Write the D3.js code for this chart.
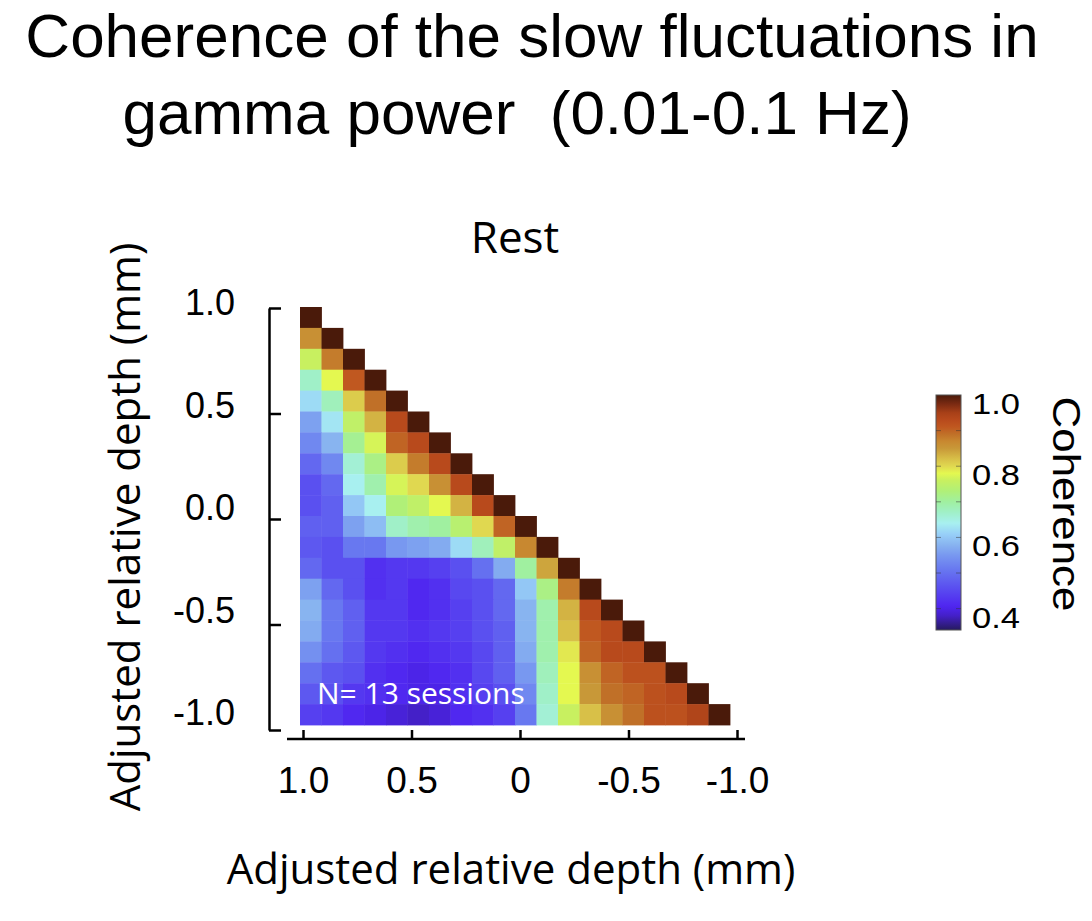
<!DOCTYPE html>
<html>
<head>
<meta charset="utf-8">
<script src="https://cdn.jsdelivr.net/npm/d3@7"></script>
<style>
  body { margin: 0; background: #ffffff; }
  svg { display: block; }
</style>
</head>
<body>
<div id="chart"></div>
<script>
///// DATA /////

// lower triangle of the coherence matrix, row i has channels 0..i
var coherence = [
  [1.0],
  [0.86, 1.0],
  [0.76, 0.88, 1.0],
  [0.67, 0.78, 0.91, 1.0],
  [0.62, 0.68, 0.81, 0.89, 1.0],
  [0.56, 0.63, 0.75, 0.83, 0.93, 1.0],
  [0.53, 0.58, 0.71, 0.77, 0.90, 0.93, 1.0],
  [0.49, 0.53, 0.66, 0.72, 0.81, 0.88, 0.93, 1.0],
  [0.46, 0.49, 0.64, 0.69, 0.77, 0.80, 0.86, 0.93, 1.0],
  [0.46, 0.48, 0.60, 0.64, 0.73, 0.75, 0.78, 0.83, 0.93, 1.0],
  [0.48, 0.48, 0.56, 0.59, 0.67, 0.69, 0.70, 0.74, 0.80, 0.90, 1.0],
  [0.47, 0.46, 0.51, 0.51, 0.55, 0.56, 0.57, 0.62, 0.68, 0.75, 0.87, 1.0],
  [0.49, 0.46, 0.46, 0.42, 0.43, 0.43, 0.44, 0.46, 0.50, 0.57, 0.70, 0.84, 1.0],
  [0.56, 0.49, 0.46, 0.42, 0.43, 0.41, 0.42, 0.45, 0.46, 0.49, 0.60, 0.72, 0.88, 1.0],
  [0.58, 0.51, 0.48, 0.43, 0.43, 0.41, 0.42, 0.44, 0.46, 0.49, 0.58, 0.69, 0.83, 0.93, 1.0],
  [0.57, 0.51, 0.48, 0.43, 0.43, 0.42, 0.43, 0.44, 0.46, 0.48, 0.58, 0.69, 0.82, 0.91, 0.93, 1.0],
  [0.54, 0.50, 0.47, 0.43, 0.42, 0.41, 0.42, 0.43, 0.45, 0.48, 0.57, 0.69, 0.79, 0.90, 0.93, 0.93, 1.0],
  [0.50, 0.47, 0.46, 0.42, 0.41, 0.40, 0.41, 0.42, 0.45, 0.48, 0.55, 0.68, 0.78, 0.86, 0.90, 0.92, 0.92, 1.0],
  [0.47, 0.46, 0.43, 0.42, 0.41, 0.40, 0.40, 0.42, 0.44, 0.46, 0.53, 0.67, 0.78, 0.85, 0.89, 0.90, 0.92, 0.93, 1.0],
  [0.44, 0.43, 0.41, 0.40, 0.39, 0.38, 0.39, 0.41, 0.42, 0.44, 0.51, 0.66, 0.76, 0.82, 0.86, 0.89, 0.92, 0.92, 0.94, 1.0]
];

var depthTicks = [1, 0.5, 0, -0.5, -1];
var xTickLabels = ["1.0", "0.5", "0", "-0.5", "-1.0"];
var yTickLabels = ["1.0", "0.5", "0.0", "-0.5", "-1.0"];
var cbarTicks = [0.4, 0.5, 0.6, 0.7, 0.8, 0.9, 1.0];
var cbarLabels = [0.4, 0.6, 0.8, 1.0];

// colour map
var cmapValues = [0.34, 0.38, 0.40, 0.41, 0.43, 0.46, 0.48, 0.51, 0.55, 0.58, 0.61, 0.64, 0.67, 0.70, 0.73, 0.76, 0.78, 0.80, 0.82, 0.85, 0.87, 0.89, 0.91, 0.93, 0.95, 0.975, 1.0];
var cmapColors = ["#261a5e", "#4420c8", "#4c24e8", "#5028f0", "#5438f0", "#5a50f0", "#6060f0", "#6878f0", "#7898f0", "#88b4f0", "#98d0f8", "#a8f0f0", "#a0f0c8", "#a0f0a0", "#b0f078", "#c8f060", "#e4f850", "#e0d850", "#d8c048", "#c89838", "#c88830", "#c07028", "#c05820", "#b84a1c", "#a84018", "#7a2a12", "#4a1a0a"];

///// CANVAS /////

var width = 1092;
var height = 921;
var nCh = coherence.length;

var svg = d3.select("#chart").append("svg")
  .attr("width", width)
  .attr("height", height);

svg.append("rect")
  .attr("width", "100%")
  .attr("height", "100%")
  .attr("fill", "#ffffff");

var color = d3.scaleLinear()
  .domain(cmapValues)
  .range(cmapColors)
  .interpolate(d3.interpolateRgb)
  .clamp(true);

// cells
var col = d3.scaleBand().domain(d3.range(nCh)).range([300, 730]);
var row = d3.scaleBand().domain(d3.range(nCh)).range([307, 725]);

// axes
var x = d3.scaleLinear().domain([1, -1]).range([303, 737]);
var y = d3.scaleLinear().domain([1, -1]).range([308, 730]);
var yLab = d3.scaleLinear().domain([1, -1]).range([315, 725]);

var cells = [];
coherence.forEach(function (r, i) {
  r.forEach(function (v, j) {
    cells.push({ i: i, j: j, v: v });
  });
});

svg.append("g")
  .selectAll("rect")
  .data(cells)
  .enter()
  .append("rect")
  .attr("x", function (d) { return col(d.j); })
  .attr("y", function (d) { return row(d.i); })
  .attr("width", col.bandwidth() + 0.4)
  .attr("height", row.bandwidth() + 0.4)
  .attr("fill", function (d) { return color(d.v); });

svg.append("text")
  .attr("x", 317)
  .attr("y", 704)
  .text("N= 13 sessions")
  .style("fill", "#ffffff")
  .style("font-family", "'Open Sans', sans-serif")
  .style("font-size", "30px");

///// AXES /////

var tickFont = "'Liberation Sans', Arial, Helvetica, sans-serif";

// x axis
var xAxis = svg.append("g")
  .attr("transform", "translate(0,739)")
  .call(d3.axisBottom(x)
    .tickValues(depthTicks)
    .tickSizeInner(-9)
    .tickSizeOuter(0)
    .tickFormat(function (d, i) { return xTickLabels[i]; }));

xAxis.select(".domain").remove();
xAxis.selectAll(".tick line").attr("stroke", "#000").attr("stroke-width", 2.5);
xAxis.selectAll(".tick text")
  .attr("y", 54)
  .attr("dy", 0)
  .style("font-family", tickFont)
  .style("font-size", "37px")
  .style("fill", "#000");

svg.append("line")
  .attr("x1", 287).attr("x2", 745)
  .attr("y1", 739).attr("y2", 739)
  .attr("stroke", "#000")
  .attr("stroke-width", 2.5);

// y axis
var yAxis = svg.append("g")
  .attr("transform", "translate(269,0)")
  .call(d3.axisRight(y)
    .tickValues(depthTicks)
    .tickSizeInner(12)
    .tickSizeOuter(0)
    .tickFormat(""));

yAxis.select(".domain").attr("stroke", "#000").attr("stroke-width", 2.5);
yAxis.selectAll(".tick line").attr("stroke", "#000").attr("stroke-width", 2.5);

svg.append("g")
  .selectAll("text")
  .data(depthTicks)
  .enter()
  .append("text")
  .attr("x", 235)
  .attr("y", function (d) { return yLab(d); })
  .attr("text-anchor", "end")
  .text(function (d, i) { return yTickLabels[i]; })
  .style("font-family", tickFont)
  .style("font-size", "36px")
  .style("fill", "#000");

///// COLOUR BAR /////

var cbY = d3.scaleLinear().domain([0.34, 1.0]).range([630, 395]);

var grad = svg.append("defs").append("linearGradient")
  .attr("id", "cbarGrad")
  .attr("x1", 0).attr("y1", 1)
  .attr("x2", 0).attr("y2", 0);

grad.selectAll("stop")
  .data(cmapValues)
  .enter()
  .append("stop")
  .attr("offset", function (d) { return (d - 0.34) / (1.0 - 0.34); })
  .attr("stop-color", function (d, i) { return cmapColors[i]; });

svg.append("rect")
  .attr("x", 936)
  .attr("y", cbY(1.0))
  .attr("width", 25)
  .attr("height", cbY(0.34) - cbY(1.0))
  .attr("fill", "url(#cbarGrad)")
  .attr("stroke", "#555")
  .attr("stroke-width", 1);

// faint tick dashes on both edges of the bar
[936, 956].forEach(function (x0) {
  svg.append("g")
    .selectAll("line")
    .data(cbarTicks.filter(function (d) { return d < 1; }))
    .enter()
    .append("line")
    .attr("x1", x0).attr("x2", x0 + 5)
    .attr("y1", function (d) { return cbY(d); })
    .attr("y2", function (d) { return cbY(d); })
    .attr("stroke", "#333")
    .attr("stroke-opacity", 0.5)
    .attr("stroke-width", 1);
});

svg.append("g")
  .selectAll("text")
  .data(cbarLabels)
  .enter()
  .append("text")
  .attr("x", 972)
  .attr("y", function (d) { return cbY(d) + 19; })
  .attr("textLength", 48)
  .attr("lengthAdjust", "spacingAndGlyphs")
  .text(function (d) { return d3.format(".1f")(d); })
  .style("font-family", tickFont)
  .style("font-size", "29px")
  .style("fill", "#000");

svg.append("text")
  .attr("transform", "translate(1053,504) rotate(90)")
  .attr("text-anchor", "middle")
  .attr("textLength", 215)
  .attr("lengthAdjust", "spacingAndGlyphs")
  .text("Coherence")
  .style("font-family", tickFont)
  .style("font-size", "38px")
  .style("fill", "#000");

///// TITLES /////

svg.append("text")
  .attr("x", 532)
  .attr("y", 57)
  .attr("text-anchor", "middle")
  .text("Coherence of the slow fluctuations in")
  .style("font-family", tickFont)
  .style("font-size", "62px")
  .style("fill", "#000");

svg.append("text")
  .attr("x", 517)
  .attr("y", 134)
  .attr("text-anchor", "middle")
  .text("gamma power  (0.01-0.1 Hz)")
  .style("white-space", "pre")
  .style("font-family", tickFont)
  .style("font-size", "62px")
  .style("fill", "#000");

svg.append("text")
  .attr("x", 515)
  .attr("y", 253)
  .attr("text-anchor", "middle")
  .text("Rest")
  .style("font-family", "'Open Sans', sans-serif")
  .style("font-size", "44px")
  .style("fill", "#000");

svg.append("text")
  .attr("x", 511)
  .attr("y", 884)
  .attr("text-anchor", "middle")
  .text("Adjusted relative depth (mm)")
  .style("font-family", "'Open Sans', sans-serif")
  .style("font-size", "42px")
  .style("fill", "#000");

svg.append("text")
  .attr("transform", "translate(140,527) rotate(-90)")
  .attr("text-anchor", "middle")
  .text("Adjusted relative depth (mm)")
  .style("font-family", "'Open Sans', sans-serif")
  .style("font-size", "42px")
  .style("fill", "#000");
</script>
</body>
</html>
